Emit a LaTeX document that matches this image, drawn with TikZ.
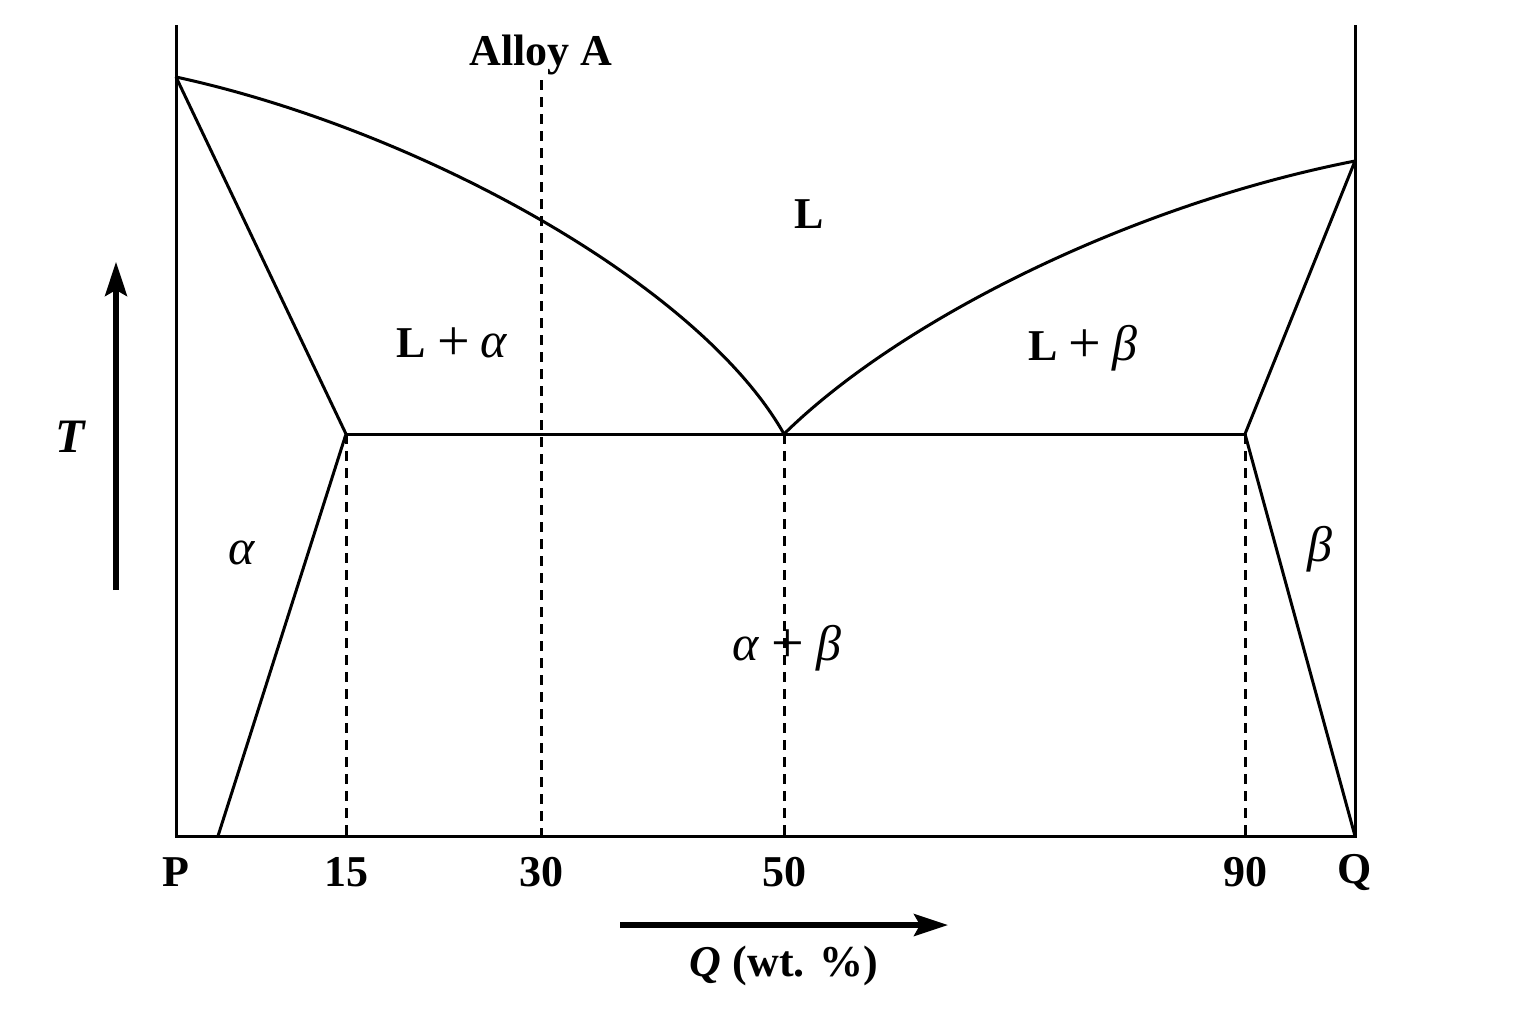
\documentclass[tikz,border=0pt]{standalone}
\usepackage{fontspec}
\setmainfont{Liberation Serif}
\usetikzlibrary{arrows.meta}
\newcommand{\bigplus}{{\mdseries\upshape\fontsize{29}{30}\selectfont\raisebox{-1.2pt}{+}}}
\begin{document}
\begin{tikzpicture}[x=0.5pt,y=-0.5pt,
  phase/.style={line width=1.5pt, line join=miter},
  guide/.style={line width=1.5pt, dash pattern=on 5pt off 3.5pt},
  axisarrow/.style={line width=2.6pt, -{Stealth[length=17pt,width=11pt,inset=3pt]}},
  lab/.style={font=\fontsize{22}{26}\selectfont\bfseries, inner sep=0pt},
  greek/.style={font=\fontsize{25}{30}\selectfont\itshape, inner sep=0pt}]
\useasboundingbox (0,0) rectangle (1536,1024);
% key points
\coordinate (Ptop) at (176,25);
\coordinate (Pbot) at (176,836);
\coordinate (Qtop) at (1355,25);
\coordinate (Qbot) at (1355,836);
\coordinate (Tm) at (176,77);
\coordinate (Tb) at (1355,161);
\coordinate (Ea) at (346,434);
\coordinate (E) at (784,434);
\coordinate (Eb) at (1245,434);
\coordinate (Sa) at (218,836);
\coordinate (A0) at (541,80);
\coordinate (A1) at (541,836);
\coordinate (X15) at (346,836);
\coordinate (X50) at (784,836);
\coordinate (X90) at (1245,836);
% frame
\draw[phase] (Ptop) -- (Pbot) -- (Qbot) -- (Qtop);
% phase boundaries
\draw[phase] (Tm) .. controls (420,130) and (700,285) .. (E);
\draw[phase] (E) .. controls (900,320) and (1130,205) .. (Tb);
\draw[phase] (Tm) -- (Ea) -- (Sa);
\draw[phase] (Ea) -- (Eb);
\draw[phase] (Tb) -- (Eb) -- (Qbot);
% dashed guides
\draw[guide] (Ea) -- (X15);
\draw[guide] (A0) -- (A1);
\draw[guide] (E) -- (X50);
\draw[guide] (Eb) -- (X90);
% axes arrows
\coordinate (Ts) at (116,590);
\coordinate (Te) at (116,262);
\draw[axisarrow] (Ts) -- (Te);
\coordinate (Qs) at (620,925);
\coordinate (Qe) at (948,925);
\draw[axisarrow] (Qs) -- (Qe);
% labels
\node[lab] (alloy) at (541,55) {Alloy A};
\node[lab] (L) at (809,214) {L};
\node[lab] (La) at (452,344) {L \bigplus{} {\mdseries\fontsize{25}{30}\selectfont\itshape α}};
\node[lab] (Lb) at (1083,348) {L \bigplus{} {\mdseries\fontsize{25}{30}\selectfont\itshape β}};
\node[greek] (al) at (242,553) {α};
\node[greek] (be) at (1320,549) {β};
\node[greek] (ab) at (787,648) {α \bigplus{} β};
\node[lab] (lP) at (176,872) {P};
\node[lab] (l15) at (346,872) {15};
\node[lab] (l30) at (541,872) {30};
\node[lab] (l50) at (784,872) {50};
\node[lab] (l90) at (1245,872) {90};
\node[lab] (lQ) at (1355,872) {Q};
\node[lab, font=\fontsize{24}{28}\selectfont\bfseries\itshape] (lT) at (70,437) {T};
\node[lab] (lQw) at (784,966) {\textit{Q} (wt. \%)};
\end{tikzpicture}
\end{document}
